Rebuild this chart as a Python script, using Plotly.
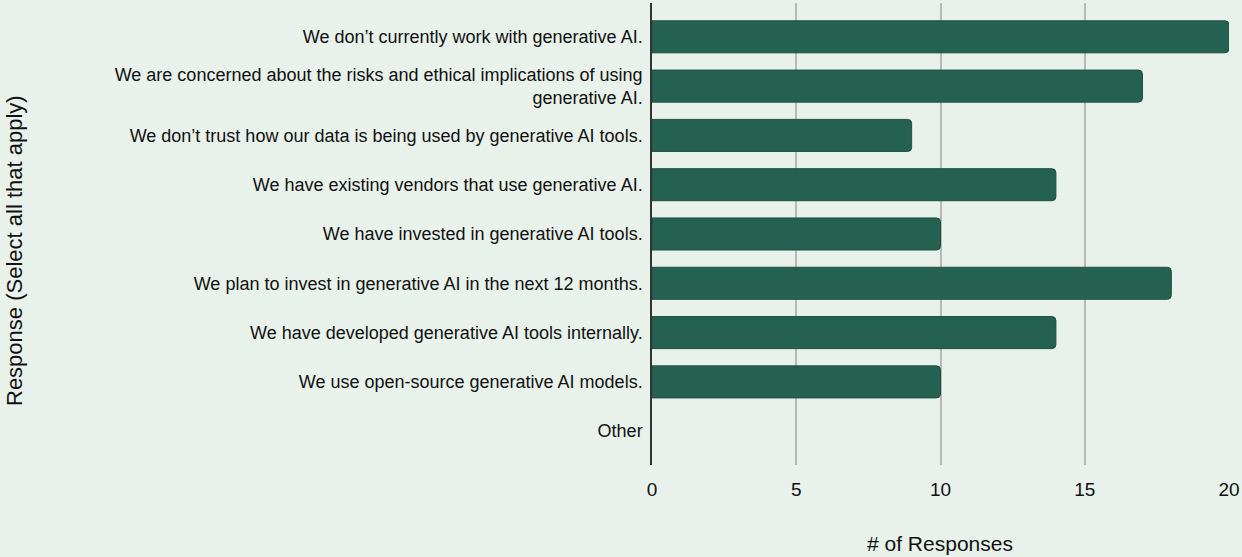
import plotly.graph_objects as go

categories = [
    "We don’t currently work with generative AI.",
    "We are concerned about the risks and ethical implications of using<br>generative AI.",
    "We don’t trust how our data is being used by generative AI tools.",
    "We have existing vendors that use generative AI.",
    "We have invested in generative AI tools.",
    "We plan to invest in generative AI in the next 12 months.",
    "We have developed generative AI tools internally.",
    "We use open-source generative AI models.",
    "Other",
]
responses = [20, 17, 9, 14, 10, 18, 14, 10, 0]
x_ticks = [0, 5, 10, 15, 20]

BG = "#e8f2eb"
BAR = "#246150"
FONT = "Liberation Sans, Arial, sans-serif"

W, H = 1242, 557
ML, MR, MT, MB = 652, 13, 3, 92
PW, PH = W - ML - MR, H - MT - MB

fig = go.Figure(go.Bar(
    x=responses, y=categories, orientation="h",
    marker=dict(color=BAR, line=dict(color="#1c4f41", width=[1 if v > 0 else 0 for v in responses])),
    width=0.65,
))

fig.update_layout(
    width=W, height=H,
    margin=dict(l=ML, r=MR, t=MT, b=MB),
    paper_bgcolor=BG, plot_bgcolor=BG,
    font=dict(family=FONT, size=18, color="#111111"),
    showlegend=False,
    barcornerradius=4,
    xaxis=dict(
        range=[0, 20], tickvals=x_ticks, showgrid=True, gridcolor="#b8b8b8", gridwidth=1.5,
        zeroline=False, showline=False, ticks="", tickfont=dict(size=19, color="#111111"),
        ticklabelstandoff=11,
    ),
    yaxis=dict(
        type="category", range=[8.686, -0.686], showgrid=False, zeroline=False,
        showline=True, linecolor="#333333", linewidth=1.5, ticks="",
        ticklabelstandoff=4, tickfont=dict(size=18, color="#111111"),
    ),
    annotations=[
        dict(text="Response (Select all that apply)", xref="paper", yref="paper",
             x=-(ML - 14) / PW, y=(H - MB - 251) / PH,
             showarrow=False, textangle=-90, font=dict(size=22, color="#111111"),
             xanchor="center", yanchor="middle"),
        dict(text="# of Responses", xref="paper", yref="paper",
             x=(940 - ML) / PW, y=-(543 - (H - MB)) / PH,
             showarrow=False, font=dict(size=21, color="#111111"),
             xanchor="center", yanchor="middle"),
    ],
)

fig.write_html("out.html", config={"displayModeBar": False},
               post_script="document.body.style.margin='0';document.body.style.overflow='hidden';")
